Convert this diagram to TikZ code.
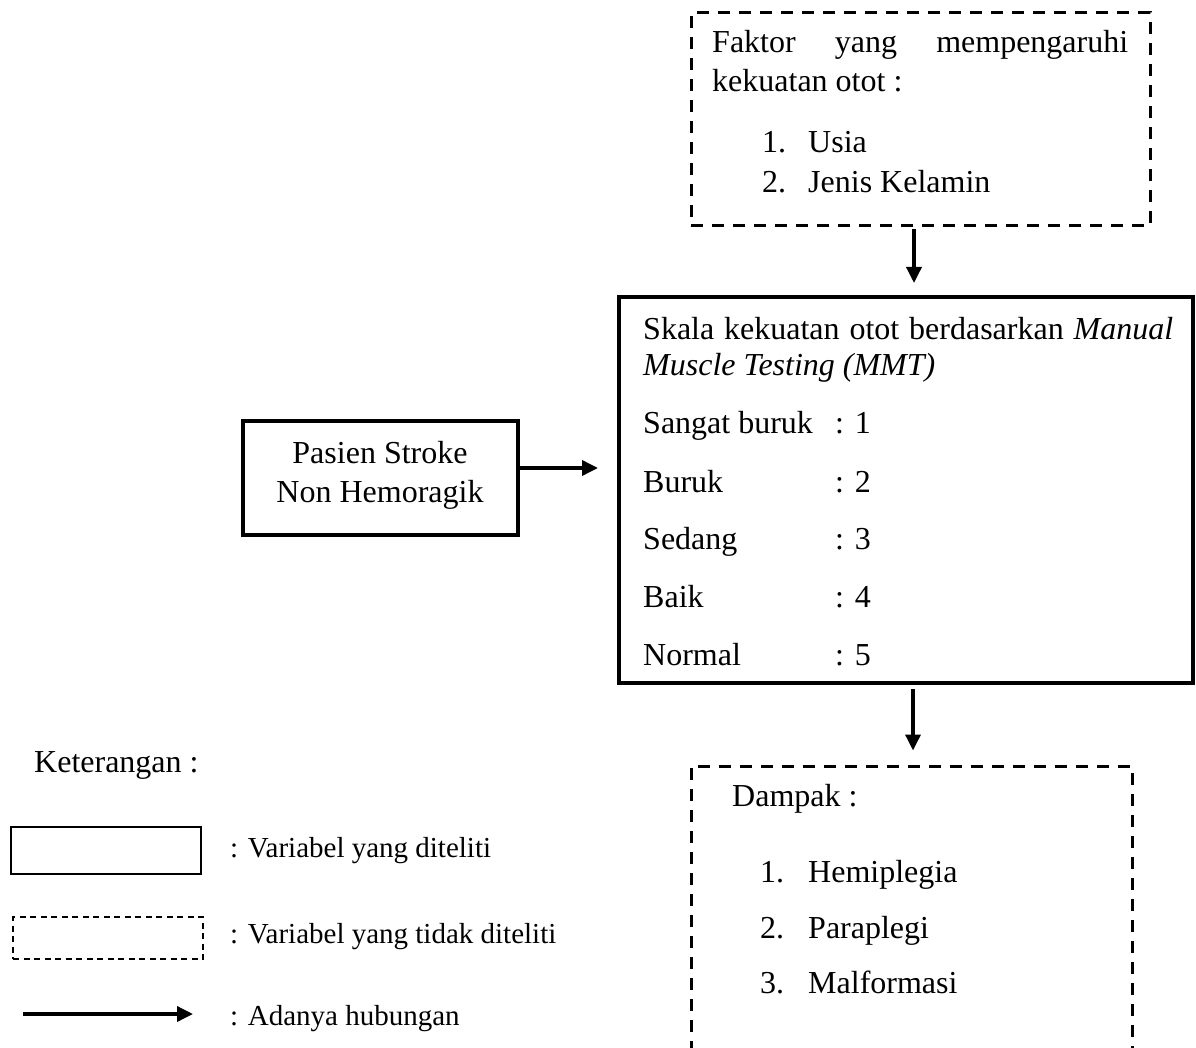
\documentclass[tikz,border=0pt]{standalone}
\usepackage{fontspec}
\setmainfont{Liberation Serif}
\usetikzlibrary{arrows.meta}

\begin{document}
\begin{tikzpicture}[x=1pt, y=-1pt,
  varbox/.style={draw, line width=4pt, inner sep=0pt},
  novarbox/.style={draw, line width=3pt, dash pattern=on 12pt off 9pt, inner sep=0pt},
  lbl/.style={anchor=base west, inner sep=0pt, font=\fontsize{32}{38}\selectfont},
  leglbl/.style={anchor=base west, inner sep=0pt, font=\fontsize{29}{35}\selectfont},
  link/.style={line width=3.5pt, -{Triangle[length=16pt,width=15pt]}}]

  \useasboundingbox (0,0) rectangle (1196,1048);

  % boxes
  \node[novarbox, minimum width=459pt, minimum height=213pt] (faktor) at (920.5,119.5) {};
  \node[varbox, minimum width=574pt, minimum height=386pt] (skala) at (906,490) {};
  \node[varbox, minimum width=275pt, minimum height=114pt] (pasien) at (380,478) {};
  \node[novarbox, minimum width=441pt, minimum height=334pt] (dampak) at (911.5,933) {};

  % faktor
  \node[lbl] (f1) at (712,53) {\makebox[416pt][s]{Faktor yang mempengaruhi}};
  \node[lbl] (f2) at (712,92) {kekuatan otot :};
  \node[lbl] (f3n) at (762,153) {1.};
  \node[lbl] (f3) at (808,153) {Usia};
  \node[lbl] (f4n) at (762,193) {2.};
  \node[lbl] (f4) at (808,193) {Jenis Kelamin};

  % skala
  \node[lbl] (s1) at (643,340) {\makebox[530pt][s]{Skala kekuatan otot berdasarkan \textit{Manual}}};
  \node[lbl] (s2) at (643,375) {\textit{Muscle Testing (MMT)}};
  \node[lbl] (r1) at (643,433) {Sangat buruk};
  \node[lbl] (v1) at (835,433) {: 1};
  \node[lbl] (r2) at (643,492) {Buruk};
  \node[lbl] (v2) at (835,492) {: 2};
  \node[lbl] (r3) at (643,549) {Sedang};
  \node[lbl] (v3) at (835,549) {: 3};
  \node[lbl] (r4) at (643,607) {Baik};
  \node[lbl] (v4) at (835,607) {: 4};
  \node[lbl] (r5) at (643,665) {Normal};
  \node[lbl] (v5) at (835,665) {: 5};

  % pasien
  \node[lbl, anchor=base] (p1) at (380,463) {Pasien Stroke};
  \node[lbl, anchor=base] (p2) at (380,502) {Non Hemoragik};

  % dampak
  \node[lbl] (d0) at (732,806) {Dampak :};
  \node[lbl] (d1n) at (760,882) {1.};
  \node[lbl] (d1) at (808,882) {Hemiplegia};
  \node[lbl] (d2n) at (760,938) {2.};
  \node[lbl] (d2) at (808,938) {Paraplegi};
  \node[lbl] (d3n) at (760,993) {3.};
  \node[lbl] (d3) at (808,993) {Malformasi};

  % arrows
  \coordinate (colA) at (914,0);
  \coordinate (colB) at (913,0);
  \draw[link, shorten <=2pt, shorten >=12pt] (faktor.south -| colA) -- (skala.north -| colA);
  \draw[link, shorten >=19pt] ([yshift=10pt]pasien.east) -- ([yshift=10pt]pasien.east -| skala.west);
  \draw[link, shorten <=4pt, shorten >=14pt] (skala.south -| colB) -- (dampak.north -| colB);

  % keterangan
  \node[lbl] (ket) at (34,772) {Keterangan :};
  \node[draw, line width=1.5pt, minimum width=190pt, minimum height=47pt] (legsolid) at (106,850.5) {};
  \node[draw, line width=1.5pt, dash pattern=on 6pt off 4.5pt, minimum width=190pt, minimum height=42pt] (legdash) at (108,938) {};
  \coordinate (legA) at (23,1014);
  \coordinate (legB) at (193,1014);
  \draw[link] (legA) -- (legB);
  \node[leglbl] (l1) at (230,857) {: Variabel yang diteliti};
  \node[leglbl] (l2) at (230,943) {: Variabel yang tidak diteliti};
  \node[leglbl] (l3) at (230,1025) {: Adanya hubungan};
\end{tikzpicture}
\end{document}
